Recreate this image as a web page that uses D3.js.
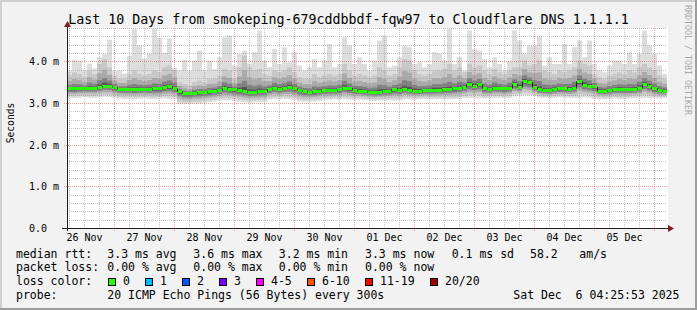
<!DOCTYPE html>
<html lang="en">
<head>
<meta charset="UTF-8">
<title>SmokePing - Cloudflare DNS 1.1.1.1</title>
<script src="https://cdn.jsdelivr.net/npm/d3@7"></script>
<style>
  html, body { margin: 0; padding: 0; background: #f2f2f2; }
  svg { display: block; }
  text { font-family: "DejaVu Sans Mono", monospace; fill: #000; }
</style>
</head>
<body>
<div id="chart"></div>
<script>
// one value per 2 h bin, in ms, starting 26 Nov 05:00
const median = [
  3.35,3.35,3.36,3.36,3.37,3.37,3.39,3.42,3.42,3.38,
  3.34,3.34,3.34,3.33,3.34,3.34,3.34,3.35,3.35,3.38,
  3.40,3.37,3.28,3.24,3.23,3.25,3.26,3.27,3.28,3.30,
  3.31,3.37,3.34,3.33,3.31,3.29,3.27,3.27,3.29,3.29,
  3.34,3.37,3.34,3.37,3.39,3.36,3.31,3.28,3.27,3.28,
  3.30,3.31,3.31,3.32,3.33,3.37,3.35,3.32,3.30,3.29,
  3.27,3.26,3.27,3.29,3.29,3.33,3.31,3.34,3.32,3.30,
  3.30,3.31,3.31,3.32,3.32,3.33,3.34,3.35,3.37,3.39,
  3.46,3.42,3.45,3.35,3.34,3.37,3.36,3.35,3.37,3.46,
  3.39,3.53,3.50,3.39,3.33,3.31,3.31,3.34,3.35,3.35,
  3.34,3.37,3.52,3.44,3.41,3.40,3.30,3.30,3.31,3.33,
  3.34,3.34,3.33,3.34,3.37,3.46,3.41,3.35,3.31,3.30
];
const pingMin = [
  3.14,3.13,3.14,3.15,3.14,3.13,3.15,3.16,3.15,3.14,
  3.12,3.11,3.11,3.10,3.11,3.12,3.11,3.10,3.11,3.12,
  3.11,3.11,2.99,2.98,2.99,3.00,3.00,3.02,3.03,3.04,
  3.07,3.07,3.08,3.06,3.04,3.03,3.02,3.03,3.03,3.04,
  3.09,3.10,3.10,3.11,3.10,3.09,3.05,3.04,3.05,3.05,
  3.06,3.09,3.09,3.10,3.09,3.10,3.09,3.08,3.09,3.08,
  3.07,3.06,3.07,3.07,3.08,3.07,3.08,3.10,3.10,3.09,
  3.10,3.11,3.10,3.10,3.11,3.10,3.10,3.11,3.10,3.13,
  3.13,3.14,3.13,3.12,3.13,3.13,3.14,3.13,3.13,3.17,
  3.19,3.20,3.19,3.18,3.14,3.14,3.13,3.14,3.15,3.14,
  3.14,3.13,3.14,3.15,3.14,3.11,3.11,3.10,3.11,3.12,
  3.11,3.11,3.12,3.13,3.13,3.14,3.13,3.13,3.12,3.13
];
const pingHigh = [
  3.67,3.75,3.71,3.63,3.79,3.71,3.95,4.07,3.87,3.67,
  3.59,3.59,3.71,3.79,3.71,3.67,3.71,3.79,3.75,3.87,
  3.91,3.79,3.51,3.47,3.43,3.51,3.55,3.51,3.59,3.59,
  3.67,3.83,3.79,3.59,3.87,4.15,3.87,3.79,3.83,3.71,
  3.67,3.79,3.75,3.79,3.87,3.75,3.63,3.59,3.59,3.71,
  3.63,3.67,3.71,3.67,3.71,3.95,3.79,3.67,3.71,3.67,
  3.63,3.67,3.87,3.79,3.67,3.71,3.87,4.07,4.03,3.79,
  3.71,3.67,3.71,3.79,3.79,3.83,3.95,3.79,3.87,3.75,
  3.95,3.87,3.91,3.79,3.71,3.83,3.75,3.71,3.79,3.87,
  3.87,4.03,3.91,3.95,4.03,3.79,3.75,3.71,3.79,3.75,
  3.79,3.87,4.03,3.95,3.91,3.71,3.63,3.59,3.67,3.71,
  3.75,3.71,3.79,3.75,3.87,3.95,3.87,3.79,3.67,3.59
];
const pingMax = [
  3.79,4.05,4.03,3.79,3.96,3.84,4.11,4.19,4.53,3.79,
  3.79,3.72,4.15,4.79,4.39,4.08,4.20,4.80,4.58,4.22,
  4.56,3.86,3.79,4.05,3.79,4.03,4.27,3.79,4.03,3.82,
  4.11,4.59,4.63,3.91,4.19,4.27,3.96,4.23,4.75,4.03,
  3.87,4.31,3.95,4.35,3.99,4.23,3.91,3.79,3.87,4.07,
  3.87,4.03,4.43,3.87,3.95,4.59,4.39,3.95,4.11,3.95,
  3.79,4.03,4.51,4.63,3.87,3.91,4.11,4.39,4.35,3.95,
  3.99,3.87,3.95,4.23,4.20,4.03,4.79,3.95,4.11,3.79,
  4.75,4.31,4.27,4.07,3.87,4.11,3.95,3.79,4.03,4.75,
  4.51,4.19,4.39,4.39,4.60,3.91,4.11,3.95,3.95,4.43,
  3.95,4.35,4.51,4.11,4.51,3.95,3.79,3.75,3.91,4.03,
  4.03,3.95,4.23,3.95,4.19,4.75,4.39,4.19,3.91,3.71
];

const dayLabels = ["26 Nov", "27 Nov", "28 Nov", "29 Nov", "30 Nov",
                   "01 Dec", "02 Dec", "03 Dec", "04 Dec", "05 Dec"];
const yTicks = [0, 1, 2, 3, 4];
const yTickLabels = ["0.0", "1.0 m", "2.0 m", "3.0 m", "4.0 m"];

const rttStats = ["3.3 ms avg", "3.6 ms max", "3.2 ms min", "3.3 ms now", "0.1 ms sd", "58.2", "am/s"];
const lossStats = ["0.00 % avg", "0.00 % max", "0.00 % min", "0.00 % now"];
const lossLabels = ["0", "1", "2", "3", "4-5", "6-10", "11-19", "20/20"];
const lossColors = ["#26ff00", "#00b8ff", "#0059ff", "#7e00ff", "#ff00ff", "#ff5500", "#ff0000", "#a10000"];
const probeText = "20 ICMP Echo Pings (56 Bytes) every 300s";
const dateText = "Sat Dec  6 04:25:53 2025";
const title = "Last 10 Days from smokeping-679cddbbdf-fqw97 to Cloudflare DNS 1.1.1.1";

const W = 697, H = 310;
const plot = {left: 67, top: 28, width: 600, height: 200};
const tStart = new Date(Date.UTC(2025, 10, 26, 5, 0));
const tEnd = new Date(Date.UTC(2025, 11, 6, 5, 0));
const binMs = 2 * 3600 * 1000;

const svg = d3.select("#chart").append("svg")
    .attr("width", W).attr("height", H);

// frame
svg.append("rect").attr("width", W).attr("height", H).attr("fill", "#f2f2f2");
svg.append("path").attr("d", `M0,${H} V0 H${W}`).attr("fill", "none")
    .attr("stroke", "#cfcfcf").attr("stroke-width", 4);
svg.append("path").attr("d", `M0,${H} H${W} V0`).attr("fill", "none")
    .attr("stroke", "#9e9e9e").attr("stroke-width", 4);

svg.append("rect")
    .attr("x", plot.left).attr("y", plot.top)
    .attr("width", plot.width + 1).attr("height", plot.height + 1)
    .attr("fill", "#fff");

const x = d3.scaleUtc().domain([tStart, tEnd]).range([plot.left, plot.left + plot.width]);
const y = d3.scaleLinear().domain([0, 4.8]).range([plot.top + plot.height + 0.5, plot.top + 0.5]);
const crisp = v => Math.floor(v) + 0.5;

const pts = median.map((m, i) => ({
    t: new Date(tStart.getTime() + i * binMs),
    md: m, lo: pingMin[i], hi: pingHigh[i], mx: Math.min(pingMax[i], 4.8)
}));
pts.push(Object.assign({}, pts[pts.length - 1], {t: tEnd}));

// smoke, outer light band to inner dark band
const layers = [
    {up: d => d.mx, dn: d => d.lo, c: "#dddddd"},
    {up: d => d.hi, dn: d => d.md - 0.8 * (d.md - d.lo), c: "#c8c8c8"},
    {up: d => d.md + 0.6 * (d.hi - d.md), dn: d => d.md - 0.55 * (d.md - d.lo), c: "#aaaaaa"},
    {up: d => d.md + 0.3 * (d.hi - d.md), dn: d => d.md - 0.35 * (d.md - d.lo), c: "#818181"},
    {up: d => d.md + 0.12 * (d.hi - d.md), dn: d => d.md - 0.15 * (d.md - d.lo), c: "#555555"}
];
const smoke = svg.append("g");
layers.forEach(l => {
    smoke.append("path")
        .datum(pts)
        .attr("fill", l.c)
        .attr("d", d3.area().curve(d3.curveStepAfter)
            .x(d => x(d.t)).y0(d => y(l.dn(d))).y1(d => y(l.up(d))));
});

// median: green bars per bin, dark step joints
const bins = pts.slice(0, -1);
svg.append("g").selectAll("line").data(bins).join("line")
    .attr("x1", d => x(d.t)).attr("x2", (d, i) => x(pts[i + 1].t))
    .attr("y1", d => crisp(y(d.md))).attr("y2", d => crisp(y(d.md)))
    .attr("stroke", lossColors[0]).attr("stroke-width", 3);
svg.append("g").selectAll("line").data(bins.slice(1)).join("line")
    .attr("x1", d => crisp(x(d.t))).attr("x2", d => crisp(x(d.t)))
    .attr("y1", (d, i) => crisp(y(bins[i].md))).attr("y2", d => crisp(y(d.md)))
    .attr("stroke", "#202020").attr("stroke-width", 1);

// grid
const grid = svg.append("g").attr("fill", "none").attr("stroke-dasharray", "1,1");
const minorX = d3.utcHour.every(6).range(tStart, tEnd).filter(t => t.getUTCHours() !== 0);
const majorX = d3.utcDay.range(tStart, tEnd);
const minorY = d3.range(0.2, 4.81, 0.2).filter(v => Math.abs(v - Math.round(v)) > 0.01);
grid.selectAll(".gx").data(minorX).join("line")
    .attr("x1", d => crisp(x(d))).attr("x2", d => crisp(x(d)))
    .attr("y1", plot.top).attr("y2", plot.top + plot.height)
    .attr("stroke", "rgba(143,143,143,0.5)");
grid.selectAll(".gy").data(minorY).join("line")
    .attr("x1", plot.left).attr("x2", plot.left + plot.width)
    .attr("y1", d => crisp(y(d))).attr("y2", d => crisp(y(d)))
    .attr("stroke", "rgba(143,143,143,0.5)");
grid.selectAll(".mx").data(majorX).join("line")
    .attr("x1", d => crisp(x(d))).attr("x2", d => crisp(x(d)))
    .attr("y1", plot.top).attr("y2", plot.top + plot.height + 3)
    .attr("stroke", "rgba(222,79,79,0.55)");
grid.selectAll(".my").data(yTicks.slice(1)).join("line")
    .attr("x1", plot.left - 3).attr("x2", plot.left + plot.width)
    .attr("y1", d => crisp(y(d))).attr("y2", d => crisp(y(d)))
    .attr("stroke", "rgba(222,79,79,0.55)");

// axes
svg.append("line").attr("x1", plot.left - 5).attr("x2", plot.left + plot.width + 3)
    .attr("y1", crisp(y(0))).attr("y2", crisp(y(0)))
    .attr("stroke", "#1f1f1f");
svg.append("line").attr("x1", plot.left + 0.5).attr("x2", plot.left + 0.5)
    .attr("y1", plot.top + plot.height + 3).attr("y2", plot.top - 3)
    .attr("stroke", "#1f1f1f");
svg.append("path").attr("fill", "#801f1f")
    .attr("d", `M${plot.left - 3},${plot.top - 1} L${plot.left + 4},${plot.top - 1} L${plot.left + 0.5},${plot.top - 7} Z`);
svg.append("path").attr("fill", "#801f1f")
    .attr("d", `M${plot.left + plot.width + 1},${crisp(y(0)) - 3.5} L${plot.left + plot.width + 1},${crisp(y(0)) + 3.5} L${plot.left + plot.width + 7},${crisp(y(0))} Z`);

// tick labels
svg.append("g").selectAll("text").data(yTicks).join("text")
    .attr("x", 29).attr("y", d => crisp(y(d)) + 3.5)
    .style("font-size", "10px")
    .text((d, i) => yTickLabels[i]);
svg.append("g").selectAll("text").data(majorX).join("text")
    .attr("x", d => x(new Date(d.getTime() - 12 * 3600 * 1000)))
    .attr("y", 241)
    .attr("text-anchor", "middle")
    .style("font-size", "10px")
    .text((d, i) => dayLabels[i]);

svg.append("text")
    .attr("transform", "translate(14,123) rotate(-90)")
    .attr("text-anchor", "middle")
    .style("font-size", "9.6px")
    .text("Seconds");

svg.append("text")
    .attr("transform", "translate(685,5) rotate(90)")
    .style("font-size", "8.3px").style("fill", "#a8a8a8")
    .text("RRDTOOL / TOBI OETIKER");

svg.append("text")
    .attr("x", W / 2).attr("y", 24)
    .attr("text-anchor", "middle")
    .style("font-size", "13.3px")
    .text(title);

// legend
const legendCols = [107.3, 193.3, 278.8, 365, 451.7, 530, 579.3];
const rows = [257.7, 271.3, 285, 298.5];
const lg = svg.append("g").style("font-size", "11.5px");
const put = (t, px, py) => lg.append("text")
    .attr("xml:space", "preserve")
    .attr("x", px).attr("y", py).text(t);
["median rtt:", "packet loss:", "loss color:", "probe:"].forEach((t, i) => put(t, 16, rows[i]));
rttStats.forEach((t, i) => put(t, legendCols[i], rows[0]));
lossStats.forEach((t, i) => put(t, legendCols[i], rows[1]));
put(probeText, legendCols[0], rows[3]);
put(dateText, 513.3, rows[3]);

let bx = 108;
lossLabels.forEach((t, i) => {
    lg.append("rect").attr("x", bx + 0.5).attr("y", 278.5)
        .attr("width", 7).attr("height", 7)
        .attr("fill", lossColors[i]).attr("stroke", "#000");
    put(t, bx + 15, rows[2]);
    bx += 30 + 7 * t.length;
});
</script>
</body>
</html>
